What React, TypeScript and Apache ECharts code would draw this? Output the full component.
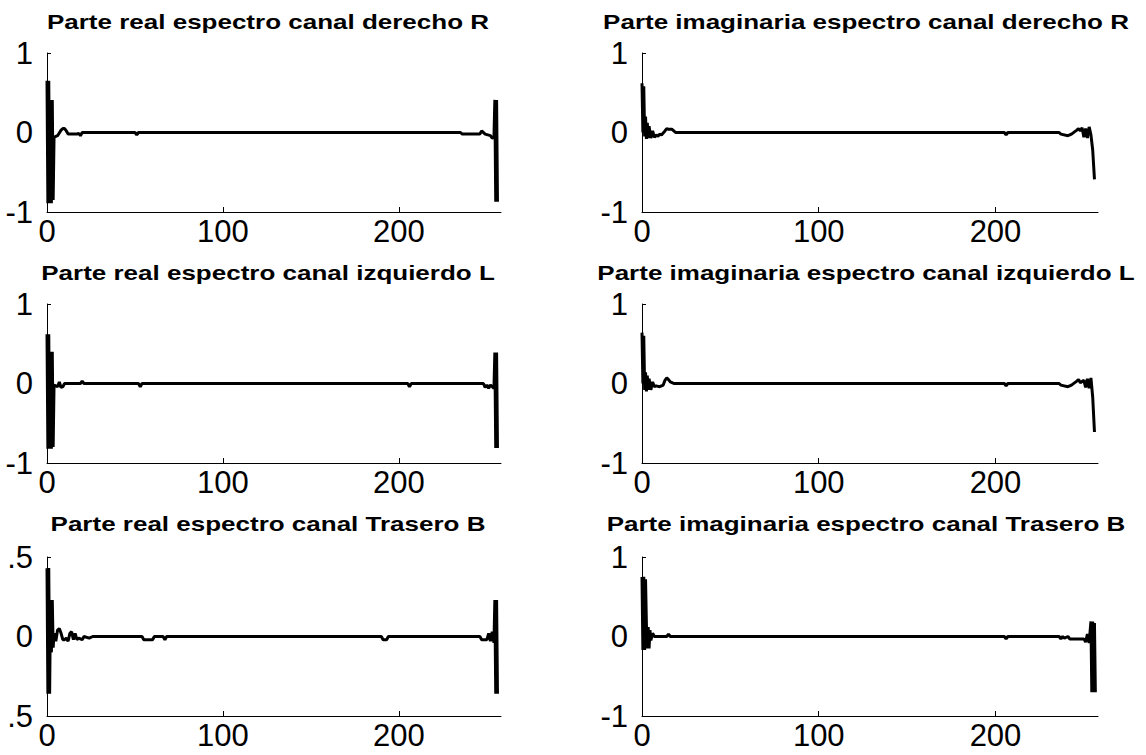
import React, { useEffect, useRef } from "react";
import * as echarts from "echarts";

// ---- Data ----
const TITLES = [
  "Parte real espectro canal derecho R",
  "Parte imaginaria espectro canal derecho R",
  "Parte real espectro canal izquierdo L",
  "Parte imaginaria espectro canal izquierdo L",
  "Parte real espectro canal Trasero B",
  "Parte imaginaria espectro canal Trasero B",
];

const X_TICKS = [0, 100, 200];
const X_MIN = 0;
const X_MAX = 258;
const Y_TICKS_UNIT = [-1, 0, 1];
const Y_TICKS_HALF = [-0.5, 0, 0.5];

const realR: number[][] = [
  [0, 0.65], [0.5, -0.89], [1, 0.65], [1.5, -0.89], [2, 0.41], [2.5, -0.89], [3, 0.41],
  [3.5, -0.85], [4, -0.06], [5, -0.05], [6, -0.04],
  [8, 0.03], [9, 0.05], [10, 0.05], [11, 0.02], [12, -0.02], [17, -0.02], [18, -0.01],
  [19, -0.04], [20, 0], [50, 0], [51, -0.03], [52, 0], [235, 0], [236, -0.02],
  [246, -0.02], [247, 0.02], [249, -0.02], [252, -0.04], [253, -0.07], [254, -0.06],
  [254.5, 0.41], [255, -0.87], [255.5, 0.41], [256, -0.87],
];

const imagR: number[][] = [
  [0, 0.62], [0.5, 0.0], [1, 0.58], [1.5, -0.05], [2, 0.2], [2.5, -0.08], [3, 0.12],
  [3.5, -0.07], [4, 0.08], [5, -0.07], [6, 0.02],
  [7, -0.06], [8, -0.03], [9, -0.05], [10, -0.02], [11, -0.03], [13, 0.02], [14, 0.05],
  [15, 0.04], [17, 0.04], [18, 0.02], [19, 0], [205, 0], [206, -0.03], [207, 0],
  [236, 0], [237, -0.02], [241, -0.04], [243, -0.02], [246, 0.03], [247, 0.05],
  [248, 0.02], [249, 0.06], [250, -0.06], [251, 0.05], [252, -0.07], [253, 0.07],
  [254, -0.03], [255, -0.22], [256, -0.59],
];

const realL: number[][] = [
  [0, 0.62], [0.5, -0.82], [1, 0.62], [1.5, -0.82], [2, 0.4], [2.5, -0.82], [3, 0.4],
  [3.5, -0.8], [4, -0.02], [5, -0.03], [6, -0.04],
  [7, 0.02], [8, -0.05], [9, -0.04], [10, 0], [19, 0], [20, 0.03], [21, 0], [52, 0],
  [53, -0.04], [54, 0], [205, 0], [206, -0.04], [207, 0], [248, 0], [249, -0.05],
  [250, -0.02], [251, -0.06], [252, -0.02], [253, -0.04], [254, -0.06], [254.5, 0.39],
  [255, -0.81], [255.5, 0.39], [256, -0.81],
];

const imagL: number[][] = [
  [0, 0.64], [0.5, 0.0], [1, 0.6], [1.5, -0.08], [2, 0.14], [2.5, -0.1], [3, 0.1],
  [3.5, -0.08], [4, 0.06], [5, -0.08], [6, 0.02],
  [7, -0.04], [8, -0.03], [10, -0.04], [12, -0.02], [13, 0.04], [14, 0.07], [15, 0.05],
  [16, 0.02], [17, 0.01], [18, 0], [205, 0], [206, -0.03], [207, 0], [236, 0],
  [237, -0.02], [241, -0.04], [243, -0.02], [246, 0.03], [247, 0.05], [248, 0.01],
  [250, 0.04], [251, -0.05], [252, 0.06], [253, -0.06], [254, 0.07], [255, -0.17],
  [256, -0.61],
];

const realB: number[][] = [
  [0, 0.43], [0.5, -0.36], [1, 0.43], [1.5, -0.36], [2, 0.23], [2.5, -0.1], [3, 0.23],
  [3.5, -0.07], [4, 0.02], [5, -0.03], [6, 0.04],
  [7, 0.05], [8, 0.02], [9, -0.02], [10, -0.02], [11, -0.01], [12, -0.03], [13, 0.02],
  [14, 0.03], [15, -0.02], [16, 0.02], [17, -0.02], [18, -0.01], [20, -0.02], [21, 0],
  [24, -0.01], [26, 0], [54, 0], [55, -0.02], [60, -0.02], [61, 0], [66, 0], [67, -0.02],
  [68, 0], [190, 0], [191, -0.02], [193, -0.02], [194, 0], [246, 0], [247, -0.02],
  [250, -0.02], [251, 0.02], [252, -0.03], [253, 0.03], [254, -0.04], [254.5, 0.23],
  [255, -0.36], [255.5, 0.23], [256, -0.36],
];

const imagB: number[][] = [
  [0, 0.75], [0.5, -0.17], [1, 0.75], [1.5, -0.17], [2, 0.72], [2.5, 0.15], [3, -0.15],
  [3.5, 0.12], [4, -0.15], [4.5, 0.08], [5, -0.05], [6, 0.04],
  [7, 0], [14, 0], [15, 0.03], [16, 0], [205, 0], [206, -0.03], [207, 0],
  [236, 0], [237, -0.03], [238, 0], [239, -0.02], [241, 0], [242, -0.03], [250, -0.03],
  [251, -0.07], [252, 0.03], [253, -0.08], [254, 0.19], [254.5, -0.7], [255, 0.19],
  [255.5, -0.7], [256, 0.17], [256.5, -0.7],
];

const SERIES = [realR, imagR, realL, imagL, realB, imagB];
const Y_TICKS = [Y_TICKS_UNIT, Y_TICKS_UNIT, Y_TICKS_UNIT, Y_TICKS_UNIT, Y_TICKS_HALF, Y_TICKS_UNIT];

// ---- Layout ----
const COL_LEFT = [47, 642];
const COL_WIDTH = [454, 456];
const ROW_TOP = [53, 304, 557];
const ROW_HEIGHT = 159;
const TITLE_CX = [268, 866];
const TITLE_CY = [22, 273, 524];
const FONT = "'Liberation Sans', Arial, Helvetica, sans-serif";

export default function App() {
  const ref = useRef<HTMLDivElement>(null);
  useEffect(() => {
    if (!ref.current) return;
    const chart = echarts.init(ref.current, undefined, { renderer: "svg" });
    const grids: any[] = [];
    const xAxes: any[] = [];
    const yAxes: any[] = [];
    const series: any[] = [];
    const graphics: any[] = [];
    for (let i = 0; i < 6; i++) {
      const r = Math.floor(i / 2);
      const c = i % 2;
      grids.push({ left: COL_LEFT[c], top: ROW_TOP[r], width: COL_WIDTH[c], height: ROW_HEIGHT, containLabel: false });
      const yt = Y_TICKS[i];
      xAxes.push({
        type: "value", gridIndex: i, min: X_MIN, max: X_MAX, interval: 100,
        axisLine: { show: true, onZero: false, lineStyle: { color: "#000", width: 1 } },
        axisTick: { show: true, inside: true, length: 5, lineStyle: { color: "#000" }, customValues: X_TICKS },
        axisLabel: { show: true, margin: 4, color: "#000", fontSize: 31, fontFamily: FONT, customValues: X_TICKS },
        splitLine: { show: false },
      });
      yAxes.push({
        type: "value", gridIndex: i, min: yt[0], max: yt[2], interval: yt[2],
        axisLine: { show: true, onZero: false, lineStyle: { color: "#000", width: 1 } },
        axisTick: { show: true, inside: true, length: 4, lineStyle: { color: "#000" }, customValues: yt },
        axisLabel: {
          show: true, margin: 14, color: "#000", fontSize: 31, fontFamily: FONT, customValues: yt,
          formatter: (v: number) => (v === 0 ? "0" : Math.abs(v) === 0.5 ? ".5" : String(v)),
        },
        splitLine: { show: false },
      });
      series.push({
        type: "line", xAxisIndex: i, yAxisIndex: i, data: SERIES[i], showSymbol: false,
        symbol: "none", lineStyle: { color: "#000", width: 3 }, silent: true,
      });
      graphics.push({
        type: "text", x: TITLE_CX[c], y: TITLE_CY[r], scaleX: 1.3,
        style: {
          text: TITLES[i], fill: "#000", font: `bold 20px ${FONT}`,
          textAlign: "center", textVerticalAlign: "middle",
        },
      });
    }
    chart.setOption({
      animation: false,
      backgroundColor: "#fff",
      grid: grids, xAxis: xAxes, yAxis: yAxes, series, graphic: graphics,
    });
    return () => chart.dispose();
  }, []);
  return (
    <div
      ref={ref}
      style={{ position: "fixed", left: 0, top: 0, width: 1146, height: 755, background: "#fff" }}
    />
  );
}
